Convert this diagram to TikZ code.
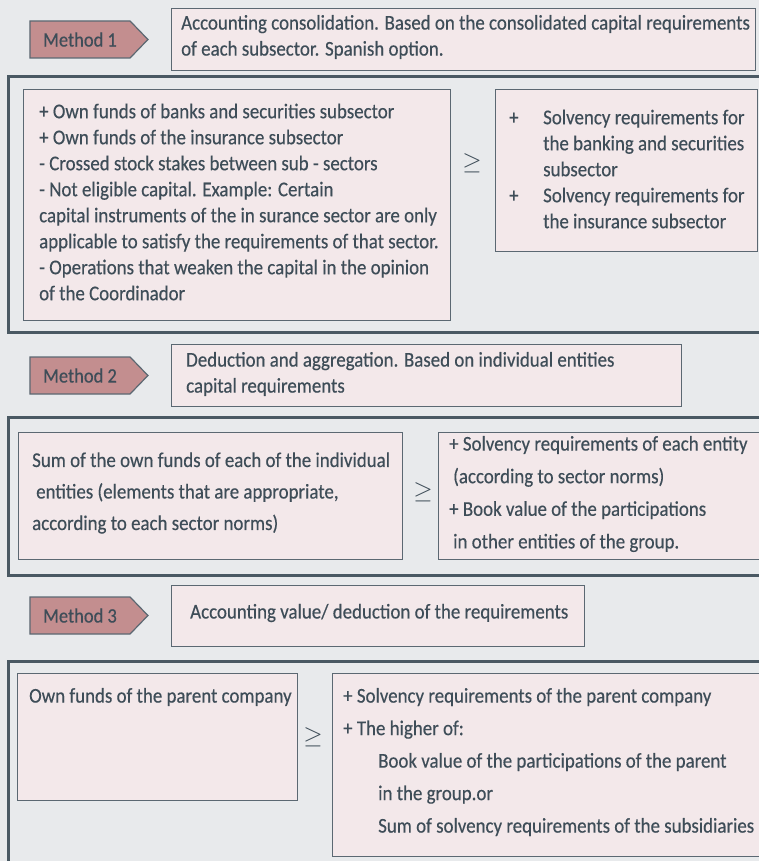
\documentclass[tikz,border=0pt]{standalone}
\usepackage{fontspec}
\setmainfont{Carlito}[FakeStretch=0.9,FakeBold=0.4]
\usetikzlibrary{shapes.symbols}
\definecolor{bgGray}{HTML}{E8EAEC}
\definecolor{boxPink}{HTML}{F3E8EA}
\definecolor{tagRose}{HTML}{C38E8F}
\definecolor{lineSlate}{HTML}{5B6872}
\definecolor{frameSlate}{HTML}{4A5963}
\definecolor{inkSlate}{HTML}{3E4D58}

\begin{document}
\begin{tikzpicture}[x=1pt,y=-1pt,
  every node/.style={text=inkSlate,inner sep=0pt},
  txt/.style={font=\fontsize{21}{26}\selectfont,align=left,anchor=west},
  tag/.style={signal,signal to=east,signal pointer angle=92,draw=lineSlate,
    fill=tagRose,line width=1.2pt,minimum width=118pt,minimum height=37pt,
    font=\fontsize{20.5}{24}\selectfont},
  panel/.style={draw=lineSlate,fill=boxPink,line width=1.2pt,anchor=north west},
  frame/.style={draw=frameSlate,line width=3pt},
  geq/.style={font=\fontsize{23}{23}\selectfont}]

\useasboundingbox (0,0) rectangle (759,861);
\fill[bgGray] (0,0) rectangle (759,861);

% frames round the three methods
\draw[frame] (8,77) rectangle (790,332);
\draw[frame] (8,417) rectangle (790,575);
\draw[frame] (8,661) rectangle (790,900);

% method 1
\node[tag] (m1) at (80,39.5) {Method 1};
\node[panel,minimum width=584pt,minimum height=62pt] (h1) at (171,8) {};
\node[txt] (h1t) at ([shift={(10,29)}]h1.north west)
  {Accounting consolidation. Based on the consolidated capital requirements\\
   of each subsector. Spanish option.};

\node[panel,minimum width=427pt,minimum height=231pt] (l1) at (23,89) {};
\node[txt] (l1t) at ([shift={(16,113)}]l1.north west)
  {+ Own funds of banks and securities subsector\\
   + Own funds of the insurance subsector\\
   - Crossed stock stakes between sub - sectors\\
   - Not eligible capital. Example: Certain\\
   capital instruments of the in surance sector are only\\
   applicable to satisfy the requirements of that sector.\\
   - Operations that weaken the capital in the opinion\\
   of the Coordinador};
\node[panel,minimum width=262pt,minimum height=162pt] (r1) at (495,89) {};
\node[txt] (r1t) at ([shift={(14,80)}]r1.north west)
  {\makebox[34pt][l]{+}Solvency requirements for\\
   \makebox[34pt][l]{}the banking and securities\\
   \makebox[34pt][l]{}subsector\\
   \makebox[34pt][l]{+}Solvency requirements for\\
   \makebox[34pt][l]{}the insurance subsector};
\node[geq] (g1) at (472,163) {$\geq$};

% method 2
\node[tag] (m2) at (80,375.5) {Method 2};
\node[panel,minimum width=510pt,minimum height=62pt] (h2) at (171,344) {};
\node[txt] (h2t) at ([shift={(15,30)}]h2.north west)
  {Deduction and aggregation. Based on individual entities\\
   capital requirements};

\node[panel,minimum width=384pt,minimum height=127pt] (l2) at (18,432) {};
\node[txt,font=\fontsize{21}{31.5}\selectfont] (l2t) at ([shift={(14,61)}]l2.north west)
  {Sum of the own funds of each of the individual\\
   \hspace*{4pt}entities (elements that are appropriate,\\
   according to each sector norms)};
\node[panel,minimum width=340pt,minimum height=127pt] (r2) at (438,432) {};
\node[txt,font=\fontsize{21}{32.6}\selectfont] (r2t) at ([shift={(11,62)}]r2.north west)
  {+ Solvency requirements of each entity\\
   \hspace*{4pt}(according to sector norms)\\
   + Book value of the participations\\
   \hspace*{4pt}in other entities of the group.};
\node[geq] (g2) at (423,492) {$\geq$};

% method 3
\node[tag] (m3) at (80,615.5) {Method 3};
\node[panel,minimum width=413pt,minimum height=61pt] (h3) at (171,585) {};
\node[txt] (h3t) at ([shift={(19,28)}]h3.north west)
  {Accounting value/ deduction of the requirements};

\node[panel,minimum width=280pt,minimum height=127pt] (l3) at (17,673) {};
\node[txt] (l3t) at ([shift={(12,24)}]l3.north west)
  {Own funds of the parent company};
\node[panel,minimum width=443pt,minimum height=183pt] (r3) at (332,673) {};
\node[txt,font=\fontsize{21}{32.5}\selectfont] (r3t) at ([shift={(11,89)}]r3.north west)
  {+ Solvency requirements of the parent company\\
   + The higher of:\\
   \hspace*{35pt}Book value of the participations of the parent\\
   \hspace*{35pt}in the group.or\\
   \hspace*{35pt}Sum of solvency requirements of the subsidiaries};
\node[geq] (g3) at (313,737) {$\geq$};

\end{tikzpicture}
\end{document}
